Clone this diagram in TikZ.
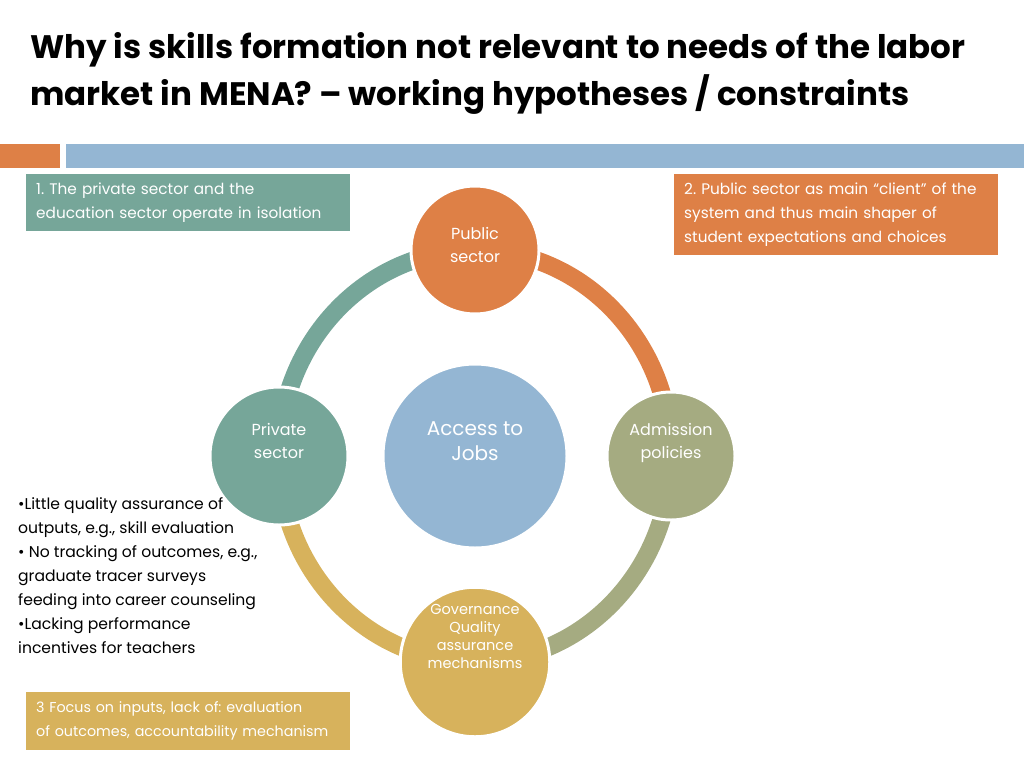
\documentclass[tikz,border=0pt]{standalone}
\usepackage{fontspec}
\setmainfont{Poppins}
\frenchspacing
\hyphenpenalty=10000
\usetikzlibrary{positioning}
\definecolor{slideorange}{RGB}{222,128,70}
\definecolor{slideblue}{RGB}{148,182,211}
\definecolor{slideteal}{RGB}{118,166,153}
\definecolor{slideolive}{RGB}{165,171,129}
\definecolor{slidegold}{RGB}{215,178,92}
\tikzset{
  hub/.style={ % image of the central circle
    circle, fill=slideblue, draw=white, line width=3pt,
    minimum size=184pt, inner sep=0pt, text=white, align=center,
    text depth=30pt, font=\fontsize{20}{25}\selectfont
  },
  sector/.style={ % image of a circle sitting on the ring
    circle, fill=#1, draw=white, line width=3pt,
    inner sep=0pt, text=white, align=center,
    font=\fontsize{16}{23}\selectfont
  },
  ring/.style={ % one quarter of the ring
    draw=#1, line width=18pt
  },
  note/.style={ % image of a coloured text box
    rectangle, fill=#1, anchor=north west, text=white,
    text width=304pt, inner xsep=10pt, inner ysep=0pt,
    align=left, font=\fontsize{15.3}{24}\selectfont
  }
}
\begin{document}
\begin{tikzpicture}[x=1pt, y=-1pt]
  \useasboundingbox (0,0) rectangle (1024,768);

  % title and the two bars under it
  \node (title) [anchor=north west, inner sep=0pt, align=left,
    font=\fontsize{32.5}{47}\selectfont\bfseries] at (30,32)
    {Why is skills formation not relevant to needs of the labor\\
     market in MENA? -- working hypotheses / constraints};
  \fill[slideorange] (0,144) rectangle (60,168);
  \fill[slideblue] (66,144) rectangle (1024,168);

  \node[hub] (jobs) at (475,456) {Access to\\Jobs};
  \coordinate (pub) at (475,250);
  \coordinate (adm) at (671,456);
  \coordinate (priv) at (279,456);
  \coordinate (gov) at (475,662);

  % the ring, one quarter per colour
  \draw[ring=slideteal] (priv) arc[start angle=180, end angle=90, x radius=196pt, y radius=206pt];
  \draw[ring=slideorange] (pub) arc[start angle=90, end angle=0, x radius=196pt, y radius=206pt];
  \draw[ring=slideolive] (adm) arc[start angle=0, end angle=-90, x radius=196pt, y radius=206pt];
  \draw[ring=slidegold] (gov) arc[start angle=270, end angle=180, x radius=196pt, y radius=206pt];

  % circles on top of the ring
  \node[sector=slideorange, minimum size=128pt, text depth=10pt] (pubc) at (pub) {Public\\sector};
  \node[sector=slideolive, minimum size=128pt, text depth=30pt] (admc) at (adm) {Admission\\policies};
  \node[sector=slideteal, minimum size=138pt, text depth=30pt] (privc) at (priv) {Private\\sector};
  \node[sector=slidegold, minimum size=138pt, text depth=52pt,
    font=\fontsize{14.5}{18}\selectfont] (govc) at (gov)
    {Governance\\Quality\\assurance\\mechanisms};

  \node[note=slideteal, minimum height=57pt] (n1) at (26,174)
    {1. The private sector and the\\education sector operate in isolation};
  \node[note=slideorange, minimum height=81pt] (n2) at (674,174)
    {2. Public sector as main ``client'' of the\\system and thus main shaper of\\student expectations and choices};
  \node[note=slidegold, minimum height=58pt, font=\fontsize{14.3}{24}\selectfont] (n3) at (26,692)
    {3 Focus on inputs, lack of: evaluation\\of outcomes, accountability mechanism};

  \node (bullets) [anchor=north west, inner sep=0pt, align=left,
    font=\fontsize{15.6}{24}\selectfont] at (18,497)
    {•Little quality assurance of\\
     outputs, e.g., skill evaluation\\
     • No tracking of outcomes, e.g.,\\
     graduate tracer surveys\\
     feeding into career counseling\\
     •Lacking performance\\
     incentives for teachers};
\end{tikzpicture}
\end{document}
